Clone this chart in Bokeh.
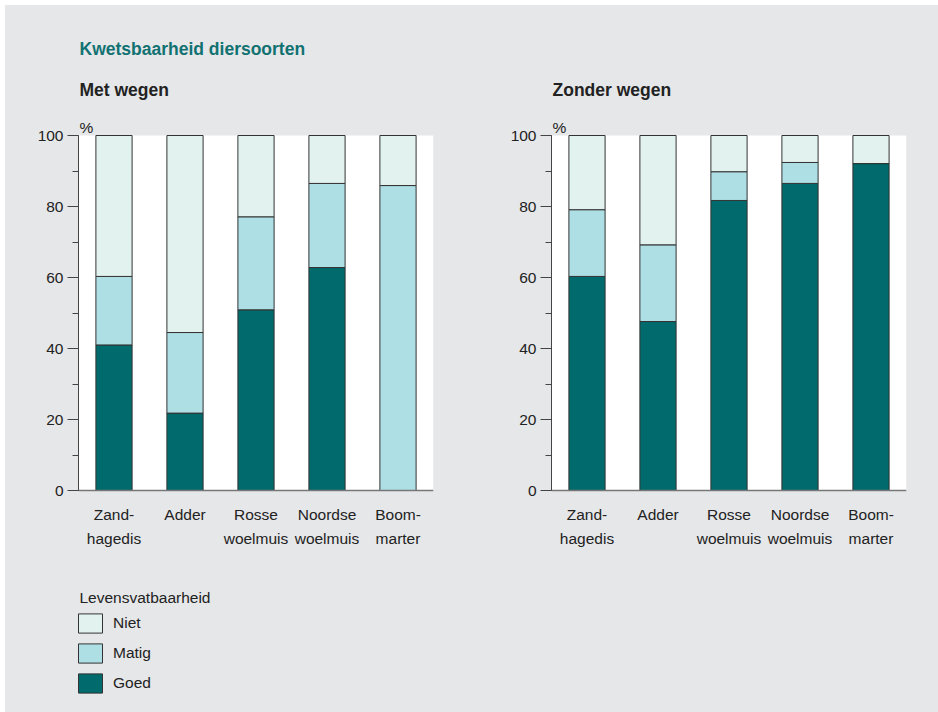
from bokeh.plotting import figure
from bokeh.models import (Range1d, FactorRange, SingleIntervalTicker, Label,
                          Legend, LegendItem, ColumnDataSource, BoxAnnotation)
from bokeh.layouts import row
from bokeh.embed import file_html
from bokeh.resources import INLINE

# ---- data ----
soorten = ["Zand-\nhagedis", "Adder", "Rosse\nwoelmuis", "Noordse\nwoelmuis", "Boom-\nmarter"]
klassen = ["Goed", "Matig", "Niet"]

goed_met = [41.0, 21.8, 50.9, 62.8, 0.0]
matig_met = [19.3, 22.7, 26.2, 23.7, 85.9]
niet_met = [39.7, 55.5, 22.9, 13.5, 14.1]

goed_zonder = [60.3, 47.6, 81.7, 86.5, 92.1]
matig_zonder = [18.8, 21.6, 8.1, 5.9, 0.0]
niet_zonder = [20.9, 30.8, 10.2, 7.6, 7.9]

titel = "Kwetsbaarheid diersoorten"
paneel_titels = ["Met wegen", "Zonder wegen"]
legenda_titel = "Levensvatbaarheid"
eenheid = "%"

# ---- style / layout ----
BG = "#e6e7e9"
KLEUREN = ["#006a6c", "#aedfe5", "#e2f2ef"]
TEAL = "#127272"
FONT = "Liberation Sans"
FS = "15.5px"
FIG_H = 710
TOP_B, BOT_B = 10, 10          # frame spans y 10..700 of the figure
ZERO_PX = 490                  # pixel row of the 0 % line
PX_PER_PCT = 3.55
Y_MIN = -((FIG_H - BOT_B) - ZERO_PX) / PX_PER_PCT
Y_MAX = (ZERO_PX - TOP_B) / PX_PER_PCT
FB = FIG_H - BOT_B             # frame bottom in pixels


def paneel(naam, goed, matig, niet, width, bl, br, hoofdtitel=False, legenda=False):
    src = ColumnDataSource(dict(soort=soorten, Goed=goed, Matig=matig, Niet=niet))
    p = figure(x_range=FactorRange(factors=soorten), y_range=Range1d(Y_MIN, Y_MAX),
               width=width, height=FIG_H, min_border_left=bl, min_border_right=br,
               min_border_top=TOP_B, min_border_bottom=BOT_B,
               output_backend="svg", toolbar_location=None,
               background_fill_alpha=0, border_fill_alpha=0,
               outline_line_color=None)
    p.add_layout(BoxAnnotation(bottom=0, top=100, fill_color="white", fill_alpha=1,
                               line_color=None, level="underlay"))
    rs = p.vbar_stack(klassen, x="soort", width=0.51, source=src,
                      fill_color=KLEUREN, line_color="#333333", line_width=1)
    p.xgrid.grid_line_color = None
    p.ygrid.grid_line_color = None

    ya = p.yaxis[0]
    ya.bounds = (0, 100)
    ya.ticker = SingleIntervalTicker(interval=20, num_minor_ticks=2)
    ya.major_tick_out = 11
    ya.major_tick_in = 0
    ya.minor_tick_out = 6
    ya.minor_tick_in = 0
    ya.major_label_standoff = 4
    ya.axis_line_color = "#444444"
    ya.major_tick_line_color = "#444444"
    ya.minor_tick_line_color = "#444444"
    ya.major_label_text_font = FONT
    ya.major_label_text_font_size = FS
    ya.major_label_text_color = "#222222"

    xa = p.xaxis[0]
    xa.fixed_location = 0
    xa.major_tick_line_color = None
    xa.major_tick_out = 0
    xa.axis_line_color = "#777777"
    xa.axis_line_width = 1.5
    xa.major_label_standoff = 15
    xa.major_label_text_font = FONT
    xa.major_label_text_font_size = FS
    xa.major_label_text_color = "#222222"
    xa.major_label_text_line_height = 1.45

    p.add_layout(Label(x=1, y=FB - 89, x_units="screen", y_units="screen", text=naam,
                       text_font=FONT, text_font_size="17.5px", text_font_style="bold",
                       text_color="#222222", text_baseline="alphabetic"))
    p.add_layout(Label(x=1, y=FB - 127, x_units="screen", y_units="screen", text=eenheid,
                       text_font=FONT, text_font_size=FS, text_color="#222222",
                       text_baseline="alphabetic"))
    if hoofdtitel:
        p.add_layout(Label(x=1, y=FB - 48, x_units="screen", y_units="screen", text=titel,
                           text_font=FONT, text_font_size="17.5px", text_font_style="bold",
                           text_color=TEAL, text_baseline="alphabetic"))
    if legenda:
        p.add_layout(Label(x=1, y=FB - 597, x_units="screen", y_units="screen",
                           text=legenda_titel, text_font=FONT, text_font_size=FS,
                           text_color="#222222", text_baseline="alphabetic"))
        items = [LegendItem(label=k, renderers=[r]) for k, r in zip(klassen, rs)][::-1]
        lg = Legend(items=items, location=(-3, FB - 695),
                    label_text_font=FONT, label_text_font_size=FS, label_text_color="#222222",
                    glyph_width=30, glyph_height=24, label_height=24, label_standoff=8,
                    spacing=6, padding=0, margin=0, border_line_color=None,
                    background_fill_alpha=0)
        p.add_layout(lg, "center")
    return p


p1 = paneel(paneel_titels[0], goed_met, matig_met, niet_met, 468, 78, 35,
            hoofdtitel=True, legenda=True)
p2 = paneel(paneel_titels[1], goed_zonder, matig_zonder, niet_zonder, 470, 83, 32)

layout = row(p1, p2, spacing=0)
html = file_html(layout, INLINE, title=titel)
css = ("<style>html,body{background:%s !important;}"
       "html::before{content:'';position:fixed;left:0;top:0;right:0;bottom:0;"
       "background:%s;z-index:-1;}"
       "body::before{content:'';position:fixed;left:0;top:0;width:100%%;height:5px;"
       "background:#ffffff;z-index:9;}"
       "body::after{content:'';position:fixed;left:0;top:0;width:5px;height:100%%;"
       "background:#ffffff;z-index:9;}</style>") % (BG, BG)
html = html.replace("</head>", css + "</head>", 1)
open("out.html", "w").write(html)
